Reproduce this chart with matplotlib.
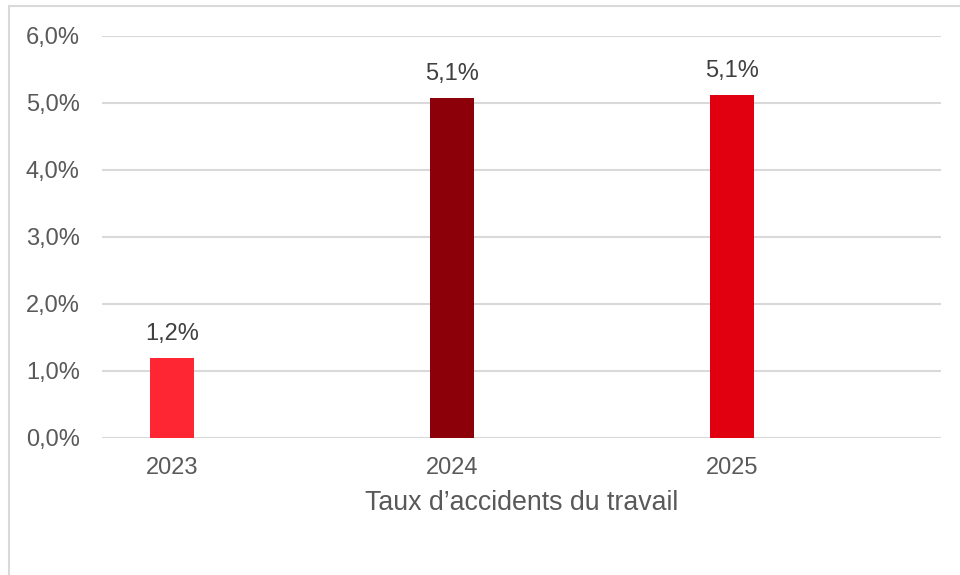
import matplotlib.pyplot as plt
from matplotlib.patches import Rectangle
from matplotlib.ticker import FuncFormatter

plt.rcParams["font.family"] = ["Liberation Sans", "DejaVu Sans"]

# Work accident rate by year (%)
years = ["2023", "2024", "2025"]
rates = [1.19, 5.07, 5.12]
bar_colors = ["#FF2633", "#8C0009", "#E0000F"]

text_color = "#595959"
grid_color = "#D9D9D9"

fig = plt.figure(figsize=(9.6, 5.75), dpi=100)
ax = fig.add_axes([0.10625, 0.2383, 0.874, 0.6991])

x = range(len(years))
bars = ax.bar(x, rates, width=0.157, color=bar_colors, zorder=3)

for b, v in zip(bars, rates):
    ax.annotate(f"{v:.1f}%".replace(".", ","),
                (b.get_x() + b.get_width() / 2, v),
                xytext=(0, 9.5), textcoords="offset points",
                ha="center", va="bottom", fontsize=17, color="#404040")

ax.set_xlim(-0.25, 2.746)
ax.set_ylim(0, 6)
ax.set_yticks([0, 1, 2, 3, 4, 5, 6])
ax.yaxis.set_major_formatter(FuncFormatter(lambda v, p: f"{v:.1f}%".replace(".", ",")))
ax.set_xticks(list(x))
ax.set_xticklabels(years)
ax.tick_params(axis="both", length=0, labelsize=17, labelcolor=text_color)
ax.tick_params(axis="y", pad=16)
ax.tick_params(axis="x", pad=14)
ax.grid(axis="y", color=grid_color, linewidth=1.5, zorder=0)
for s in ax.spines.values():
    s.set_visible(False)

ax.set_xlabel("Taux d\u2019accidents du travail", fontsize=19.3, color=text_color, labelpad=7.5)

# light frame around the chart area
fig.patches.append(Rectangle((9 / 960, -0.1), 1.2, 1 - 6 / 575 + 0.1,
                             transform=fig.transFigure, fill=False,
                             edgecolor=grid_color, linewidth=1.5))

plt.savefig("out.png", dpi=100)
